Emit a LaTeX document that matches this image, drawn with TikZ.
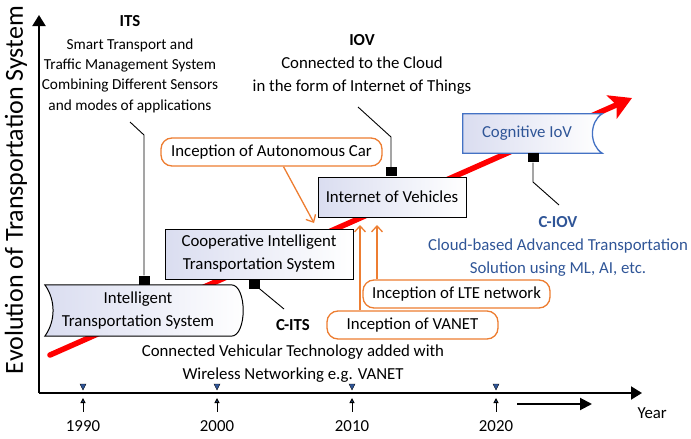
\documentclass[tikz,border=0pt]{standalone}
\usepackage{fontspec}
\setmainfont{Carlito}
\usepackage{tikz}
\usetikzlibrary{arrows.meta,shadows}
\pgfdeclarelayer{bg}
\pgfdeclarelayer{fg}
\pgfsetlayers{bg,main,fg}
\definecolor{inceptionorange}{RGB}{237,125,49}
\definecolor{ciovblue}{RGB}{47,85,151}
\definecolor{ciovborder}{RGB}{68,114,196}
\definecolor{erashade}{RGB}{218,221,240}
\tikzset{
    eranote/.style={anchor=north, align=center, inner sep=0pt, font=\fontsize{16.8}{23}\selectfont},
    erabox/.style={draw, line width=1pt, left color=erashade, right color=white, align=center, inner sep=0pt, font=\fontsize{16.8}{23}\selectfont, drop shadow={shadow xshift=1.2pt, shadow yshift=-1.2pt, fill=black!70}},
    eratext/.style={align=center, inner sep=0pt, font=\fontsize{16.8}{23}\selectfont},
    inceptionbox/.style={draw=inceptionorange, line width=1.3pt, rounded corners=11pt, fill=white, minimum height=28pt, inner sep=0pt, font=\fontsize{16.8}{20}\selectfont},
    inceptionarrow/.style={inceptionorange, line width=1.3pt, -{Straight Barb[length=6pt,width=11pt]}},
    anchorsq/.style={fill=black, inner sep=0pt, minimum width=11pt, minimum height=9pt},
    anchorline/.style={line width=0.9pt},
    trendarrow/.style={red, line width=5.5pt, line cap=round, -{Stealth[length=22pt,width=25pt,inset=5pt]}},
    axisline/.style={line width=2pt, -{Triangle[length=11pt,width=13pt]}},
    yearlabel/.style={font=\fontsize{16.8}{20}\selectfont}
}
\begin{document}
\begin{tikzpicture}[x=1pt, y=-1pt]
    \useasboundingbox (0,0) rectangle (691,439);
    \coordinate (origin) at (39,393);
    \coordinate (ytip) at (39,15);
    \coordinate (xtip) at (642,393);
    \coordinate (trendstart) at (50,355);
    \coordinate (trendend) at (632,98);
    \draw[axisline] (origin) -- (ytip);
    \draw[axisline] (origin) -- (xtip);
    \node[rotate=90, font=\fontsize{26}{30}\selectfont] (ylabel) at (16,190) {Evolution of Transportation System};
    \foreach \yr/\xp in {1990/83, 2000/217, 2010/352, 2020/496} {
        \node[yearlabel] (yr\yr) at (\xp,426) {\yr};
        \filldraw[fill=ciovblue, draw=black, line width=0.4pt] (\xp-3,384) -- (\xp+3,384) -- (\xp,390) -- cycle;
        \draw[line width=1pt, -{Triangle[length=5pt,width=5pt,fill=ciovblue]}] (yr\yr.north) ++(0,-5) -- (\xp,398);
    }
    \coordinate (yeargo) at (517,404);
    \draw[line width=2pt, -{Triangle[length=12pt,width=12pt]}] (yeargo) -- ++(75,0);
    \node[yearlabel, anchor=west] (yearname) at (634,413) {Year};

    \begin{pgfonlayer}{bg}
        \draw[trendarrow] (trendstart) -- (trendend);
    \end{pgfonlayer}

    \begin{pgfonlayer}{fg}
        \node[eratext, minimum width=186pt, minimum height=51pt] (its) at (138,310.5) {Intelligent\\Transportation System};
        \node[eratext, minimum width=128pt, minimum height=39pt, text=ciovblue] (ciov) at (527,133.5) {Cognitive IoV};
    \end{pgfonlayer}
    \path[draw, line width=1pt, left color=erashade, right color=white] (its.south west) .. controls +(11,-15) and +(11,15) .. (its.north west) -- (its.north east) .. controls +(16,0) and +(16,0) .. (its.south east) -- cycle;
    \path[draw=ciovborder, line width=1.3pt, left color=erashade, right color=white] (ciov.north west) -- ([xshift=11pt]ciov.north east) .. controls +(-13,8) and +(-13,-8) .. ([xshift=11pt]ciov.south east) -- (ciov.south west) -- cycle;

    \node[erabox, minimum width=188pt, minimum height=50pt] (cits) at (259,254) {Cooperative Intelligent\\Transportation System};
    \node[erabox, minimum width=148pt, minimum height=40pt] (iov) at (392,197) {Internet of Vehicles};

    \node[anchorsq, anchor=south] (itssq) at ([xshift=6pt]its.north) {};
    \node[anchorsq, anchor=north] (citssq) at ([xshift=-5pt]cits.south) {};
    \node[anchorsq, anchor=south] (iovsq) at ([xshift=-1pt]iov.north) {};
    \node[anchorsq, anchor=north] (ciovsq) at ([xshift=6pt]ciov.south) {};

    \node[eranote, font=\fontsize{15.3}{20.2}\selectfont] (itsnote) at (130,15) {{\fontsize{16.8}{20}\selectfont\textbf{ITS}}\\[3pt]Smart Transport and\\Traffic Management System\\Combining Different Sensors\\and modes of applications};
    \node[eranote] (iovnote) at (362,34) {\textbf{IOV}\\Connected to the Cloud\\in the form of Internet of Things};
    \node[eranote] (citsnote) at (293,319) {\textbf{C-ITS}\\[3pt]Connected Vehicular Technology added with\\Wireless Networking e.g. VANET};
    \node[eranote, text=ciovblue] (ciovnote) at (558,216) {\textbf{C-IOV}\\Cloud-based Advanced Transportation\\Solution using ML, AI, etc.};

    \coordinate (itsbend) at (144,135);
    \coordinate (itsend) at (130,122);
    \coordinate (citsend) at (284,309);
    \coordinate (iovbend) at (391,137);
    \coordinate (iovend) at (358,107);
    \coordinate (ciovbend) at (533,182);
    \coordinate (ciovend) at (559,205);
    \draw[anchorline] (itssq) -- (itsbend) -- (itsend);
    \draw[anchorline] (citssq) -- (citsend);
    \draw[anchorline] (iovsq) -- (iovbend) -- (iovend);
    \draw[anchorline] (ciovsq) -- (ciovbend) -- (ciovend);

    \node[inceptionbox, minimum width=221pt] (autocar) at (271.5,152) {Inception of Autonomous Car};
    \node[inceptionbox, minimum width=187pt] (lte) at (456.5,294) {Inception of LTE network};
    \node[inceptionbox, minimum width=171pt] (vanet) at (412.5,325) {Inception of VANET};
    \coordinate (autotip) at (314,223);
    \coordinate (ltetip) at (377,225);
    \coordinate (vanettip) at (360,225);
    \draw[inceptionarrow] ([xshift=12pt]autocar.south) -- (autotip);
    \draw[inceptionarrow] (lte.north -| ltetip) -- (ltetip);
    \draw[inceptionarrow] (vanet.north -| vanettip) -- (vanettip);
\end{tikzpicture}
\end{document}
